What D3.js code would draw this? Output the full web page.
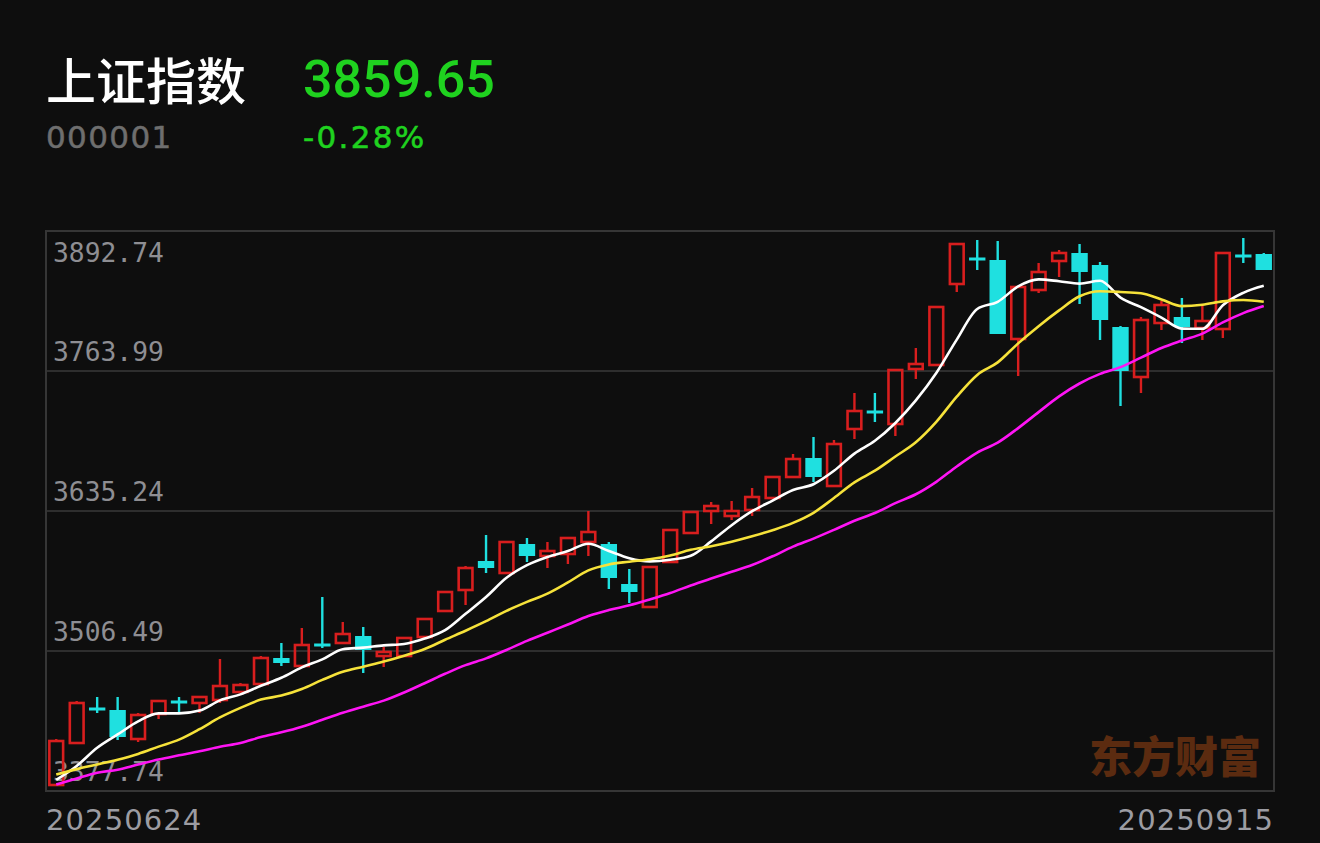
<!DOCTYPE html>
<html><head><meta charset="utf-8">
<script src="https://cdn.jsdelivr.net/npm/d3@7"></script>
<style>html,body{margin:0;padding:0;background:#0e0e0e;}svg{display:block}</style>
</head><body><svg id="c" width="1320" height="843"></svg>
<script>
const titleName = "上证指数";
const titleCode = "000001";
const lastPrice = "3859.65";
const lastChange = "-0.28%";
const watermark = "东方财富";

const dates = ["20250624","20250625","20250626","20250627","20250630",
"20250701","20250702","20250703","20250704","20250707","20250708","20250709","20250710","20250711",
"20250714","20250715","20250716","20250717","20250718","20250721","20250722","20250723","20250724","20250725",
"20250728","20250729","20250730","20250731",
"20250801","20250804","20250805","20250806","20250807","20250808","20250811","20250812","20250813","20250814","20250815",
"20250818","20250819","20250820","20250821","20250822","20250825","20250826","20250827","20250828","20250829",
"20250901","20250902","20250903","20250904","20250905","20250908","20250909","20250910","20250911","20250912","20250915"];

const opens = [3383.26,3421.88,3453.15,3452.23,3425.56,3448.55,3459.59,3458.67,3461.43,3468.78,
3476.14,3500.05,3492.70,3512.01,3513.85,3520.28,3501.89,3501.89,3519.36,3543.28,
3562.59,3589.26,3578.22,3604.89,3593.86,3595.70,3606.73,3604.89,3568.11,3546.95,
3588.34,3615.01,3635.24,3630.64,3636.16,3647.19,3666.51,3683.98,3658.23,3710.65,
3726.28,3715.25,3765.83,3769.51,3844.00,3866.99,3866.07,3793.42,3838.48,3865.15,
3872.51,3861.47,3804.45,3758.47,3808.13,3813.65,3803.53,3802.61,3869.75,3871.59];
const highs = [3425.56,3460.51,3464.19,3464.19,3449.47,3461.43,3464.19,3465.11,3499.13,3477.06,
3501.89,3513.85,3527.64,3556.15,3533.16,3528.56,3510.17,3519.36,3536.84,3561.67,
3584.66,3613.17,3607.65,3610.41,3606.73,3611.33,3635.24,3606.73,3581.90,3584.66,
3618.69,3635.24,3643.52,3644.44,3656.39,3667.43,3687.66,3703.29,3700.53,3743.76,
3743.76,3765.83,3785.14,3823.77,3881.70,3884.46,3883.54,3842.16,3863.31,3875.27,
3880.78,3864.23,3805.37,3813.65,3828.37,3831.12,3824.69,3872.51,3886.30,3872.51];
const lows = [3382.34,3420.96,3449.47,3424.64,3422.80,3443.95,3448.55,3449.47,3458.67,3467.86,
3475.22,3492.70,3491.78,3509.25,3513.85,3486.26,3491.78,3500.97,3519.36,3543.28,
3548.79,3578.22,3578.22,3588.34,3582.82,3586.50,3593.86,3563.51,3550.63,3546.95,
3588.34,3615.01,3623.28,3626.96,3630.64,3647.19,3666.51,3661.91,3658.23,3701.45,
3717.09,3704.21,3756.63,3769.51,3836.64,3856.87,3798.02,3759.39,3835.72,3850.44,
3825.61,3792.50,3731.80,3743.76,3801.69,3789.74,3792.50,3794.34,3863.31,3856.87];
const closes = [3423.72,3458.67,3451.31,3427.40,3447.63,3460.51,3458.67,3464.19,3474.30,3475.22,
3500.05,3495.45,3512.01,3511.09,3522.12,3507.41,3505.57,3518.45,3535.92,3560.75,
3582.82,3582.82,3606.73,3593.86,3598.45,3610.41,3615.93,3573.62,3560.75,3583.74,
3617.77,3634.32,3639.84,3635.24,3648.11,3666.51,3683.06,3666.51,3696.86,3727.20,
3725.37,3764.91,3770.43,3822.85,3880.78,3866.07,3798.02,3841.24,3855.03,3872.51,
3855.03,3810.89,3763.99,3810.89,3824.69,3804.45,3809.97,3872.51,3867.91,3856.87];
// closes before the first visible day (needed for the moving averages)
const priorCloses = [3346.7,3345.9,3369.5,3353.5,3368.0,3382.2,3390.1,3391.4,3405.8,3390.8,
3408.3,3408.7,3383.0,3394.7,3393.4,3394.8,3368.1,3365.9,3387.6];

const yTicks = [3377.74,3506.49,3635.24,3763.99,3892.74];
const xTickLabels = [dates[0], dates[dates.length-1]];
const maPeriods = [5,10,20];
const maColors = ["#ffffff","#f6e23a","#ff14f5"];

const svg = d3.select("#c");
const W = 1320, H = 843;
const plot = {l:46, r:1274, t:231, b:791};
svg.append("rect").attr("width",W).attr("height",H).attr("fill","#0e0e0e");

// header
svg.append("text").attr("x",46).attr("y",100).text(titleName)
  .attr("fill","#ffffff").attr("font-family","'Noto Sans CJK SC'").attr("font-weight",500).attr("font-size",50);
svg.append("text").attr("x",46).attr("y",148).text(titleCode)
  .attr("fill","#6e6e6e").attr("font-family","'DejaVu Sans'").attr("font-size",31).attr("letter-spacing",1.4)
  .attr("stroke","#6e6e6e").attr("stroke-width",0.5);
svg.append("text").attr("x",303).attr("y",97).text(lastPrice)
  .attr("fill","#1fd21f").attr("font-family","Roboto").attr("font-weight",500).attr("font-size",52);
svg.append("text").attr("x",303).attr("y",148).text(lastChange)
  .attr("fill","#1fd21f").attr("font-family","'DejaVu Sans'").attr("font-size",31).attr("letter-spacing",2.3)
  .attr("stroke","#1fd21f").attr("stroke-width",0.6);

const x = d3.scaleBand().domain(dates).range([plot.l, plot.r]).paddingInner(0.2).paddingOuter(0.1);
const y = d3.scaleLinear().domain([yTicks[0], yTicks[yTicks.length-1]]).range([plot.b, plot.t]);

// gridlines
const grid = svg.append("g");
grid.selectAll("line").data(yTicks.slice(1,-1)).join("line")
  .attr("x1",plot.l).attr("x2",plot.r).attr("y1",d=>y(d)).attr("y2",d=>y(d))
  .attr("stroke","#2e2e2e").attr("stroke-width",2);
grid.append("rect").attr("x",plot.l).attr("y",plot.t).attr("width",plot.r-plot.l).attr("height",plot.b-plot.t)
  .attr("fill","none").attr("stroke","#363636").attr("stroke-width",2);

// watermark
svg.append("text").attr("x",1261).attr("y",773).attr("text-anchor","end").text(watermark)
  .attr("fill","#5b2b10").attr("font-family","'Noto Sans CJK SC'").attr("font-weight",900).attr("font-size",43);

// y labels
svg.append("g").selectAll("text").data(yTicks).join("text")
  .attr("x",53).attr("y",(d,i)=> i===yTicks.length-1 ? y(d)+31 : y(d)-10)
  .text(d=>d.toFixed(2)).attr("fill","#8e8e93")
  .attr("font-family","'DejaVu Sans Mono'").attr("font-size",26.3);

// candles
const bw = x.bandwidth();
const data = dates.map((d,i)=>({d,o:opens[i],h:highs[i],l:lows[i],c:closes[i]}));
const RED = "#d81e1e", CYAN = "#1fe0e0";
const cg = svg.append("g");
data.forEach(k=>{
  const cx = x(k.d) + bw/2;
  const up = k.c >= k.o;
  const top = y(Math.max(k.o,k.c)), bot = y(Math.min(k.o,k.c));
  if (up) {
    cg.append("line").attr("x1",cx).attr("x2",cx).attr("y1",y(k.h)).attr("y2",top).attr("stroke",RED).attr("stroke-width",2.4);
    cg.append("line").attr("x1",cx).attr("x2",cx).attr("y1",bot).attr("y2",y(k.l)).attr("stroke",RED).attr("stroke-width",2.4);
    cg.append("rect").attr("x",x(k.d)+1.3).attr("y",top).attr("width",bw-2.6).attr("height",Math.max(bot-top,1.5))
      .attr("fill","none").attr("stroke",RED).attr("stroke-width",2.6);
  } else {
    cg.append("line").attr("x1",cx).attr("x2",cx).attr("y1",y(k.h)).attr("y2",y(k.l)).attr("stroke",CYAN).attr("stroke-width",2.4);
    cg.append("rect").attr("x",x(k.d)).attr("y",top - (bot-top<3?1.5:0)).attr("width",bw).attr("height",Math.max(bot-top,3))
      .attr("fill",CYAN);
  }
});

// moving averages
const allCloses = priorCloses.concat(closes);
const off = priorCloses.length;
maPeriods.forEach((p,j)=>{
  const vals = closes.map((c,i)=>{
    const idx = i+off;
    return d3.mean(allCloses.slice(idx-p+1, idx+1));
  });
  const line = d3.line().x((v,i)=>x(dates[i])+bw/2).y(v=>y(v)).curve(d3.curveMonotoneX);
  svg.append("path").attr("d",line(vals)).attr("fill","none").attr("stroke",maColors[j]).attr("stroke-width",2.6);
});

// x labels
svg.append("text").attr("x",46).attr("y",830).text(xTickLabels[0])
  .attr("fill","#9c9ca2").attr("font-family","'DejaVu Sans'").attr("font-size",29).attr("letter-spacing",1.1);
svg.append("text").attr("x",1274).attr("y",830).attr("text-anchor","end").text(xTickLabels[1])
  .attr("fill","#9c9ca2").attr("font-family","'DejaVu Sans'").attr("font-size",29).attr("letter-spacing",1.1);
</script></body></html>
